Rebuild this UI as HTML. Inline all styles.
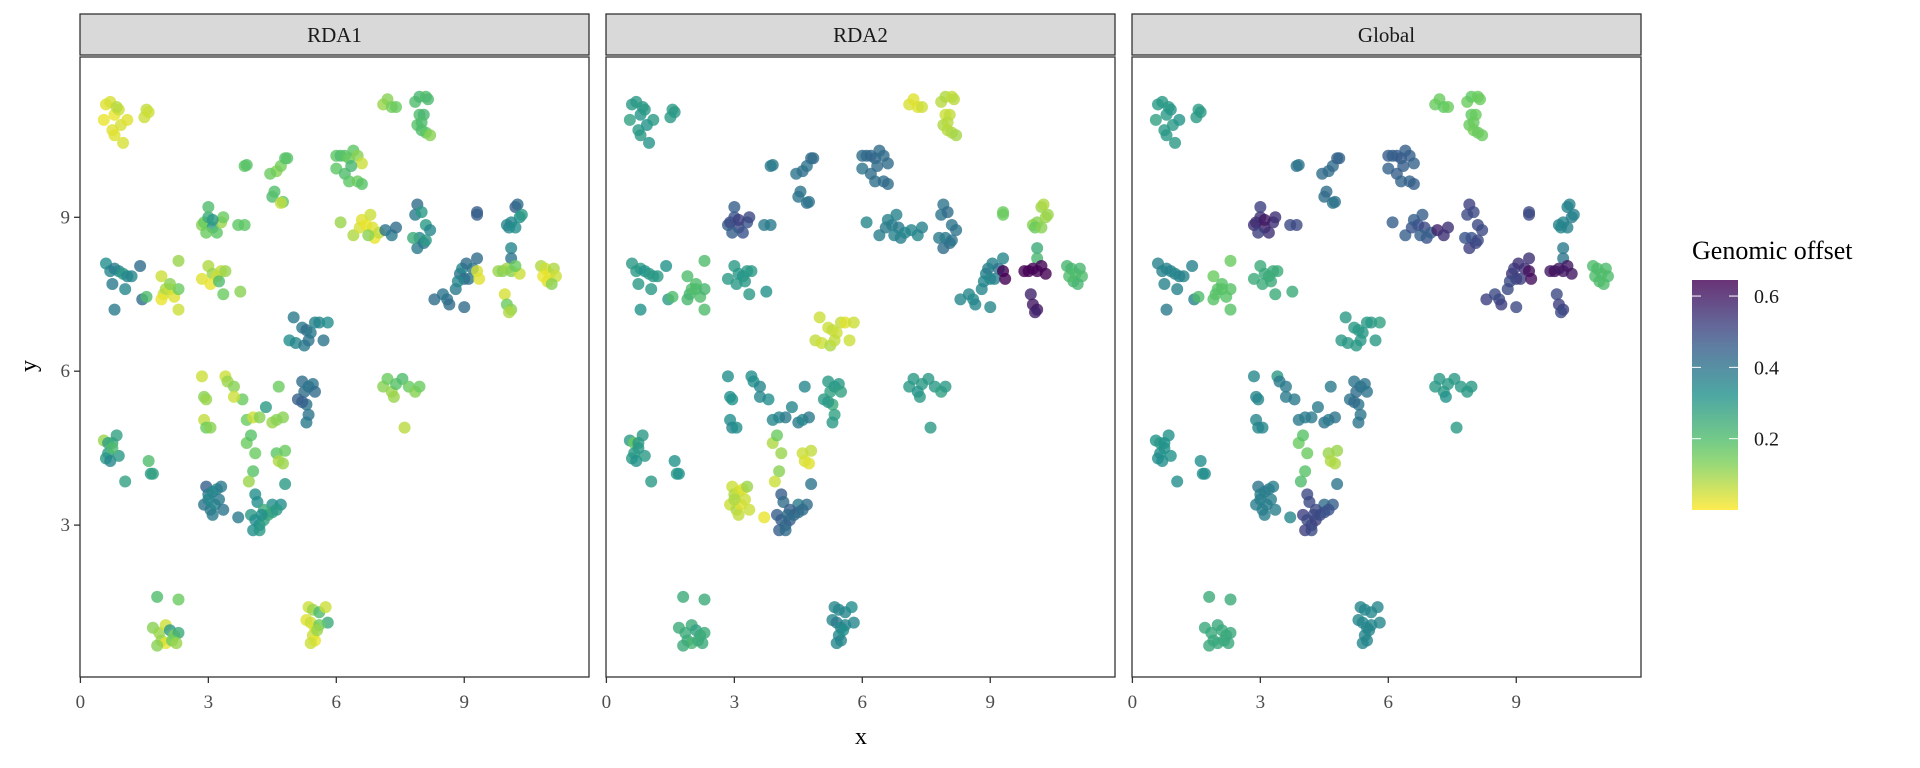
<!DOCTYPE html>
<html><head><meta charset="utf-8"><style>
body{margin:0;background:#fff}
svg{display:block;font-family:"Liberation Serif",serif}
</style></head><body>
<svg id="chart" width="1920" height="768"></svg>
<script>
// rows: x, y, RDA1, RDA2, Global
const rows = [
[0.6,11.2,.03,.3,.3],[0.7,11.25,.04,.3,.3],[0.8,11.0,.02,.31,.3],[0.9,11.1,.05,.3,.31],[0.55,10.9,.02,.28,.28],[0.75,10.7,.03,.3,.3],[0.95,10.8,.04,.32,.3],[1.1,10.9,.03,.3,.31],[1.0,10.45,.04,.31,.3],[0.8,10.6,.03,.3,.3],[1.5,10.95,.05,.3,.3],[1.55,11.1,.06,.29,.29],[1.6,11.05,.05,.3,.3],[0.85,11.15,.07,.3,.3],
[3.85,10.0,.17,.38,.4],[3.9,10.02,.18,.38,.4],[4.5,9.4,.2,.4,.42],[4.55,9.5,.19,.4,.42],[4.6,9.9,.12,.41,.42],[4.7,10.0,.14,.4,.42],[4.8,10.15,.18,.42,.44],[4.85,10.15,.18,.42,.44],[4.75,9.3,.17,.4,.4],[4.7,9.28,.06,.4,.4],[4.45,9.85,.15,.4,.42],
[6.0,10.2,.17,.42,.45],[6.1,10.2,.2,.42,.45],[6.2,10.2,.18,.43,.45],[6.3,10.15,.15,.43,.46],[6.4,10.3,.17,.42,.45],[6.5,10.2,.12,.42,.45],[6.6,10.05,.05,.42,.44],[6.0,9.95,.17,.4,.44],[6.2,9.85,.2,.42,.45],[6.3,9.7,.17,.41,.44],[6.5,9.7,.15,.42,.44],[6.6,9.65,.18,.42,.45],[6.35,10.0,.22,.42,.45],
[7.1,11.2,.1,.04,.15],[7.2,11.3,.12,.03,.15],[7.3,11.15,.14,.03,.16],[7.4,11.15,.15,.05,.15],
[7.85,11.25,.2,.07,.15],[7.95,11.35,.22,.08,.16],[8.1,11.35,.2,.06,.15],[8.15,11.3,.21,.07,.15],[7.95,11.0,.2,.05,.16],[8.05,11.0,.22,.06,.15],[7.9,10.8,.18,.08,.15],[8.0,10.7,.2,.07,.14],[8.1,10.65,.17,.08,.15],[8.2,10.6,.12,.09,.15],[8.0,10.85,.2,.07,.15],
[2.85,8.85,.12,.45,.55],[2.9,8.9,.15,.5,.56],[3.0,9.0,.25,.48,.55],[3.0,9.2,.2,.45,.52],[3.1,8.8,.3,.5,.58],[3.2,8.7,.17,.48,.55],[2.95,8.7,.15,.45,.52],[3.3,8.9,.1,.48,.55],[3.35,9.0,.15,.5,.55],[3.1,8.95,.3,.52,.6],
[3.7,8.85,.17,.38,.5],[3.85,8.85,.17,.38,.5],
[6.1,8.9,.1,.35,.45],[6.4,8.65,.08,.37,.45],[6.55,8.8,.04,.38,.48],[6.6,8.95,.03,.36,.45],[6.7,8.85,.02,.37,.48],[6.8,9.05,.05,.36,.45],[6.85,8.8,.03,.38,.5],[6.9,8.6,.02,.37,.48],[7.0,8.7,.06,.35,.45],[6.75,8.65,.12,.36,.45],
[7.15,8.75,.4,.35,.58],[7.3,8.65,.38,.35,.55],[7.4,8.8,.42,.36,.55],
[7.9,9.25,.42,.4,.52],[7.85,9.05,.38,.4,.5],[8.0,9.1,.3,.42,.5],[8.1,8.85,.3,.4,.5],[8.2,8.75,.35,.4,.5],[7.95,8.6,.35,.38,.48],[8.05,8.5,.4,.4,.5],[7.9,8.4,.38,.42,.52],[8.1,8.55,.3,.4,.5],[7.8,8.6,.25,.38,.48],
[9.3,9.1,.45,.15,.5],[9.3,9.05,.45,.15,.5],
[10.2,9.2,.45,.1,.36],[10.25,9.25,.42,.08,.36],[10.0,8.85,.35,.12,.36],[10.1,8.9,.35,.12,.35],[10.3,9.0,.33,.1,.37],[10.05,8.8,.35,.15,.35],[10.2,8.8,.33,.12,.36],[10.35,9.05,.3,.1,.36],
[10.1,8.4,.35,.25,.38],[10.1,8.2,.4,.22,.4],
[8.3,7.4,.42,.35,.52],[8.5,7.5,.4,.35,.5],[8.6,7.4,.4,.34,.5],[8.65,7.3,.42,.35,.52],[8.8,7.6,.38,.35,.5],[8.9,7.9,.4,.36,.55],[8.95,8.0,.35,.38,.52],[9.0,7.8,.42,.35,.52],[9.05,8.1,.42,.36,.55],[9.2,8.0,.4,.4,.55],[9.3,8.2,.42,.35,.55],[9.0,7.25,.42,.35,.5],[9.1,7.8,.4,.36,.52],[8.85,7.75,.35,.35,.5],
[9.3,7.95,.04,.65,.62],[9.35,7.8,.03,.65,.62],
[9.8,7.95,.1,.65,.6],[9.9,7.95,.12,.65,.62],[10.0,8.0,.1,.65,.6],[10.1,7.95,.12,.64,.6],[10.3,7.9,.05,.65,.6],[10.2,8.05,.15,.64,.6],
[9.95,7.5,.04,.58,.5],[10.0,7.3,.15,.6,.52],[10.1,7.2,.12,.6,.52],[10.05,7.15,.08,.58,.5],
[10.8,8.05,.08,.22,.2],[10.9,8.0,.05,.22,.2],[11.0,7.9,.03,.2,.2],[11.1,8.0,.08,.22,.2],[11.15,7.85,.05,.2,.2],[10.95,7.75,.03,.22,.2],[11.05,7.7,.12,.22,.2],[10.85,7.85,.02,.2,.2],
[0.6,8.1,.33,.3,.36],[0.7,7.95,.35,.3,.36],[0.8,8.0,.38,.3,.36],[0.9,7.95,.35,.32,.36],[1.0,7.9,.3,.3,.35],[1.1,7.85,.35,.3,.36],[1.2,7.85,.35,.3,.36],[1.4,8.05,.42,.32,.36],[0.75,7.7,.38,.3,.36],[1.05,7.6,.35,.3,.36],[0.8,7.2,.38,.32,.38],[1.45,7.4,.42,.3,.36],
[1.55,7.45,.2,.2,.2],[1.9,7.85,.05,.2,.15],[1.95,7.5,.05,.22,.18],[2.0,7.6,.08,.2,.18],[2.1,7.6,.05,.2,.18],[2.2,7.45,.03,.2,.18],[2.3,7.6,.15,.22,.18],[2.3,8.15,.1,.2,.15],[1.9,7.4,.02,.22,.18],[2.3,7.2,.05,.2,.18],[2.1,7.7,.12,.2,.18],
[2.85,7.8,.03,.3,.25],[3.0,8.05,.08,.3,.25],[3.1,7.9,.1,.3,.26],[3.2,7.85,.05,.32,.25],[3.3,7.95,.06,.3,.25],[3.4,7.95,.1,.3,.25],[3.05,7.7,.02,.3,.25],[3.25,7.75,.2,.3,.25],[3.35,7.5,.15,.3,.25],[3.75,7.55,.12,.32,.25],
[5.0,7.05,.38,.05,.3],[5.2,6.85,.38,.05,.3],[5.3,6.8,.42,.06,.3],[5.4,6.75,.38,.05,.3],[5.5,6.95,.36,.06,.3],[5.6,6.95,.35,.03,.3],[5.8,6.95,.33,.05,.28],[4.9,6.6,.33,.06,.3],[5.05,6.55,.35,.05,.3],[5.25,6.5,.38,.08,.3],[5.35,6.6,.4,.06,.3],[5.7,6.6,.4,.05,.3],
[5.1,5.45,.45,.3,.4],[5.2,5.8,.42,.3,.4],[5.25,5.6,.42,.28,.42],[5.35,5.7,.4,.3,.4],[5.45,5.75,.4,.3,.4],[5.5,5.6,.42,.28,.4],[5.3,5.35,.4,.25,.4],[5.35,5.15,.4,.28,.4],[5.3,5.0,.38,.3,.4],[5.2,5.4,.45,.3,.42],
[7.1,5.7,.12,.3,.3],[7.2,5.85,.15,.3,.3],[7.3,5.6,.1,.32,.3],[7.4,5.75,.18,.3,.3],[7.55,5.85,.2,.3,.3],[7.7,5.7,.15,.3,.3],[7.85,5.6,.12,.28,.3],[7.95,5.7,.15,.3,.3],[7.35,5.5,.1,.3,.32],[7.6,4.9,.07,.3,.3],
[2.85,5.9,.05,.33,.35],[2.9,5.5,.12,.33,.35],[2.95,5.45,.1,.32,.35],[2.9,5.05,.06,.33,.35],[2.95,4.9,.15,.35,.35],[3.05,4.9,.12,.33,.35],
[3.4,5.9,.05,.33,.3],[3.45,5.8,.1,.33,.38],[3.6,5.7,.12,.35,.38],[3.8,5.45,.15,.33,.38],[3.6,5.5,.05,.35,.38],[3.9,5.05,.15,.35,.38],[4.05,5.1,.05,.35,.38],[4.2,5.1,.12,.38,.38],[4.35,5.3,.3,.35,.38],[4.5,5.0,.1,.38,.4],[4.6,5.05,.12,.35,.38],[4.65,5.7,.15,.35,.38],[4.75,5.1,.12,.38,.4],[3.9,4.6,.15,.08,.15],[4.0,4.75,.18,.15,.18],[4.1,4.4,.15,.1,.15],[4.05,4.05,.18,.12,.18],[3.95,3.85,.1,.05,.2],[4.6,4.4,.17,.05,.1],[4.65,4.25,.08,.04,.08],[4.8,4.45,.15,.06,.1],[4.75,4.2,.1,.03,.08],[4.8,3.8,.3,.4,.4],[4.7,3.4,.33,.42,.45],[4.5,3.4,.33,.38,.42],
[0.55,4.65,.1,.3,.32],[0.65,4.6,.28,.15,.3],[0.75,4.6,.25,.3,.32],[0.85,4.75,.28,.3,.32],[0.65,4.4,.3,.3,.33],[0.6,4.3,.3,.3,.33],[0.7,4.25,.35,.32,.33],[0.9,4.35,.3,.3,.32],[0.75,4.5,.2,.3,.32],
[1.6,4.25,.2,.32,.33],[1.65,4.0,.3,.3,.33],[1.7,4.0,.28,.32,.33],[1.05,3.85,.28,.3,.33],
[2.95,3.75,.45,.05,.4],[3.0,3.6,.38,.08,.37],[3.1,3.65,.35,.05,.37],[3.2,3.7,.35,.03,.38],[3.3,3.75,.38,.1,.37],[2.9,3.4,.4,.05,.37],[3.05,3.3,.38,.08,.37],[3.15,3.4,.35,.03,.37],[3.25,3.5,.38,.05,.37],[3.35,3.3,.4,.05,.37],[3.1,3.2,.38,.06,.37],[3.7,3.15,.38,.02,.35],[3.0,3.5,.35,.08,.37],
[4.1,3.6,.33,.45,.5],[4.15,3.45,.33,.42,.5],[4.0,3.2,.3,.45,.52],[4.1,3.1,.33,.45,.5],[4.2,3.0,.33,.42,.5],[4.3,3.1,.28,.45,.52],[4.4,3.2,.25,.42,.5],[4.5,3.25,.28,.42,.48],[4.6,3.3,.3,.42,.48],[4.05,2.9,.33,.45,.52],[4.2,2.9,.3,.42,.5],[4.3,3.3,.25,.45,.5],[4.25,3.2,.33,.42,.5],
[1.8,1.6,.2,.25,.25],[2.3,1.55,.15,.25,.25],[1.7,1.0,.12,.25,.26],[1.85,0.9,.1,.25,.26],[2.0,1.05,.05,.25,.26],[2.1,0.95,.3,.28,.26],[2.2,0.85,.12,.25,.25],[2.3,0.9,.25,.25,.26],[1.9,0.75,.1,.25,.26],[2.0,0.7,.02,.22,.26],[2.15,0.75,.15,.25,.26],[2.25,0.7,.1,.25,.26],[1.8,0.65,.12,.25,.26],
[5.35,1.4,.05,.35,.35],[5.45,1.35,.1,.35,.35],[5.6,1.3,.2,.35,.35],[5.75,1.4,.05,.33,.35],[5.8,1.1,.25,.35,.35],[5.3,1.15,.03,.35,.35],[5.4,1.1,.05,.38,.35],[5.5,1.0,.03,.35,.35],[5.6,1.05,.15,.35,.35],[5.45,0.85,.05,.35,.35],[5.5,0.75,.02,.35,.35],[5.4,0.7,.05,.35,.35],[5.55,0.95,.1,.33,.35]
];
const xs = rows.map(r=>r[0]);
const ys = rows.map(r=>r[1]);
const rda1 = rows.map(r=>r[2]);
const rda2 = rows.map(r=>r[3]);
const globalOffset = rows.map(r=>r[4]);
const panelTitles = ["RDA1","RDA2","Global"];
const xTicks = [0,3,6,9];
const yTicks = [3,6,9];
const legendTicks = [0.2,0.4,0.6];

const NS="http://www.w3.org/2000/svg";
const svg=document.getElementById('chart');
function el(t,a,p){const e=document.createElementNS(NS,t);for(const k in a)e.setAttribute(k,a[k]);(p||svg).appendChild(e);return e;}
const vir=[[68,1,84],[59,82,139],[33,145,140],[94,201,98],[253,231,37]];
function viridis(t){t=Math.max(0,Math.min(1,t));const s=t*4,i=Math.min(3,Math.floor(s)),f=s-i;const a=vir[i],b=vir[i+1];return `rgb(${a.map((c,k)=>Math.round(c+(b[k]-c)*f)).join(',')})`;}
const vmax=0.645;
function col(v){return viridis(1-v/vmax);}
const panelX=[80,606,1132], pw=509, pTop=57, pBot=677;
const yScale=v=>679-v*51.3;
const values=[rda1,rda2,globalOffset];
panelX.forEach((px,p)=>{
  const xScale=v=>px+0.4+v*42.65;
  const g=el('g',{});
  
  
  const strip=el('rect',{x:px,y:14,width:pw,height:41,fill:'#d9d9d9',stroke:'#333','stroke-width':1.3},g);
  
  
  const st=el('text',{x:px+pw/2,y:42,'text-anchor':'middle','font-size':21,fill:'#1a1a1a'},g);
  st.textContent=panelTitles[p];
  
  
  el('rect',{x:px,y:pTop,width:pw,height:pBot-pTop,fill:'#fff',stroke:'#333','stroke-width':1.3},g);
  const v=values[p];
  for(let i=0;i<xs.length;i++){
    const c=el('circle',{cx:xScale(xs[i]),cy:yScale(ys[i]),r:6,fill:col(v[i]),'fill-opacity':0.8},g);
    
    
  }
  xTicks.forEach(t=>{
    el('line',{x1:xScale(t),x2:xScale(t),y1:pBot,y2:pBot+6,stroke:'#333','stroke-width':1.3},g);
    const tx=el('text',{x:xScale(t),y:pBot+31,'text-anchor':'middle','font-size':19,fill:'#4d4d4d'},g);
    tx.textContent=t;
    
    
  });
  if(p===0){
    yTicks.forEach(t=>{
      el('line',{x1:px-6,x2:px,y1:yScale(t),y2:yScale(t),stroke:'#333','stroke-width':1.3},g);
      const ty=el('text',{x:px-10,y:yScale(t)+6,'text-anchor':'end','font-size':19,fill:'#4d4d4d'},g);
      ty.textContent=t;
      
      
    });
  }
});
const xt=el('text',{x:861,y:744,'text-anchor':'middle','font-size':24,fill:'#000'});
xt.textContent='x';


const yt=el('text',{x:0,y:0,'text-anchor':'middle','font-size':24,fill:'#000',transform:'translate(36,366) rotate(-90)'});
yt.textContent='y';


// legend
const lg=el('g',{});


const lt=el('text',{x:1692,y:259,'font-size':26,fill:'#000'},lg);
lt.textContent='Genomic offset';


const defs=el('defs',{},lg);
const grad=el('linearGradient',{id:'vg',x1:0,y1:1,x2:0,y2:0},defs);
for(let i=0;i<=10;i++){el('stop',{offset:i/10,'stop-color':col(vmax*i/10)},grad);}
const lbTop=280,lbBot=510;
const bar=el('rect',{x:1692,y:lbTop,width:46,height:lbBot-lbTop,fill:'url(#vg)','fill-opacity':0.8},lg);


const ly=v=>lbBot-v/vmax*(lbBot-lbTop);
legendTicks.forEach(t=>{
  el('line',{x1:1692,x2:1701,y1:ly(t),y2:ly(t),stroke:'#fff','stroke-width':1},lg);
  el('line',{x1:1729,x2:1738,y1:ly(t),y2:ly(t),stroke:'#fff','stroke-width':1},lg);
  const tl=el('text',{x:1754,y:ly(t)+7,'font-size':20,fill:'#1a1a1a'},lg);
  tl.textContent=t.toFixed(1);
  
  
});
</script>
</body></html>
